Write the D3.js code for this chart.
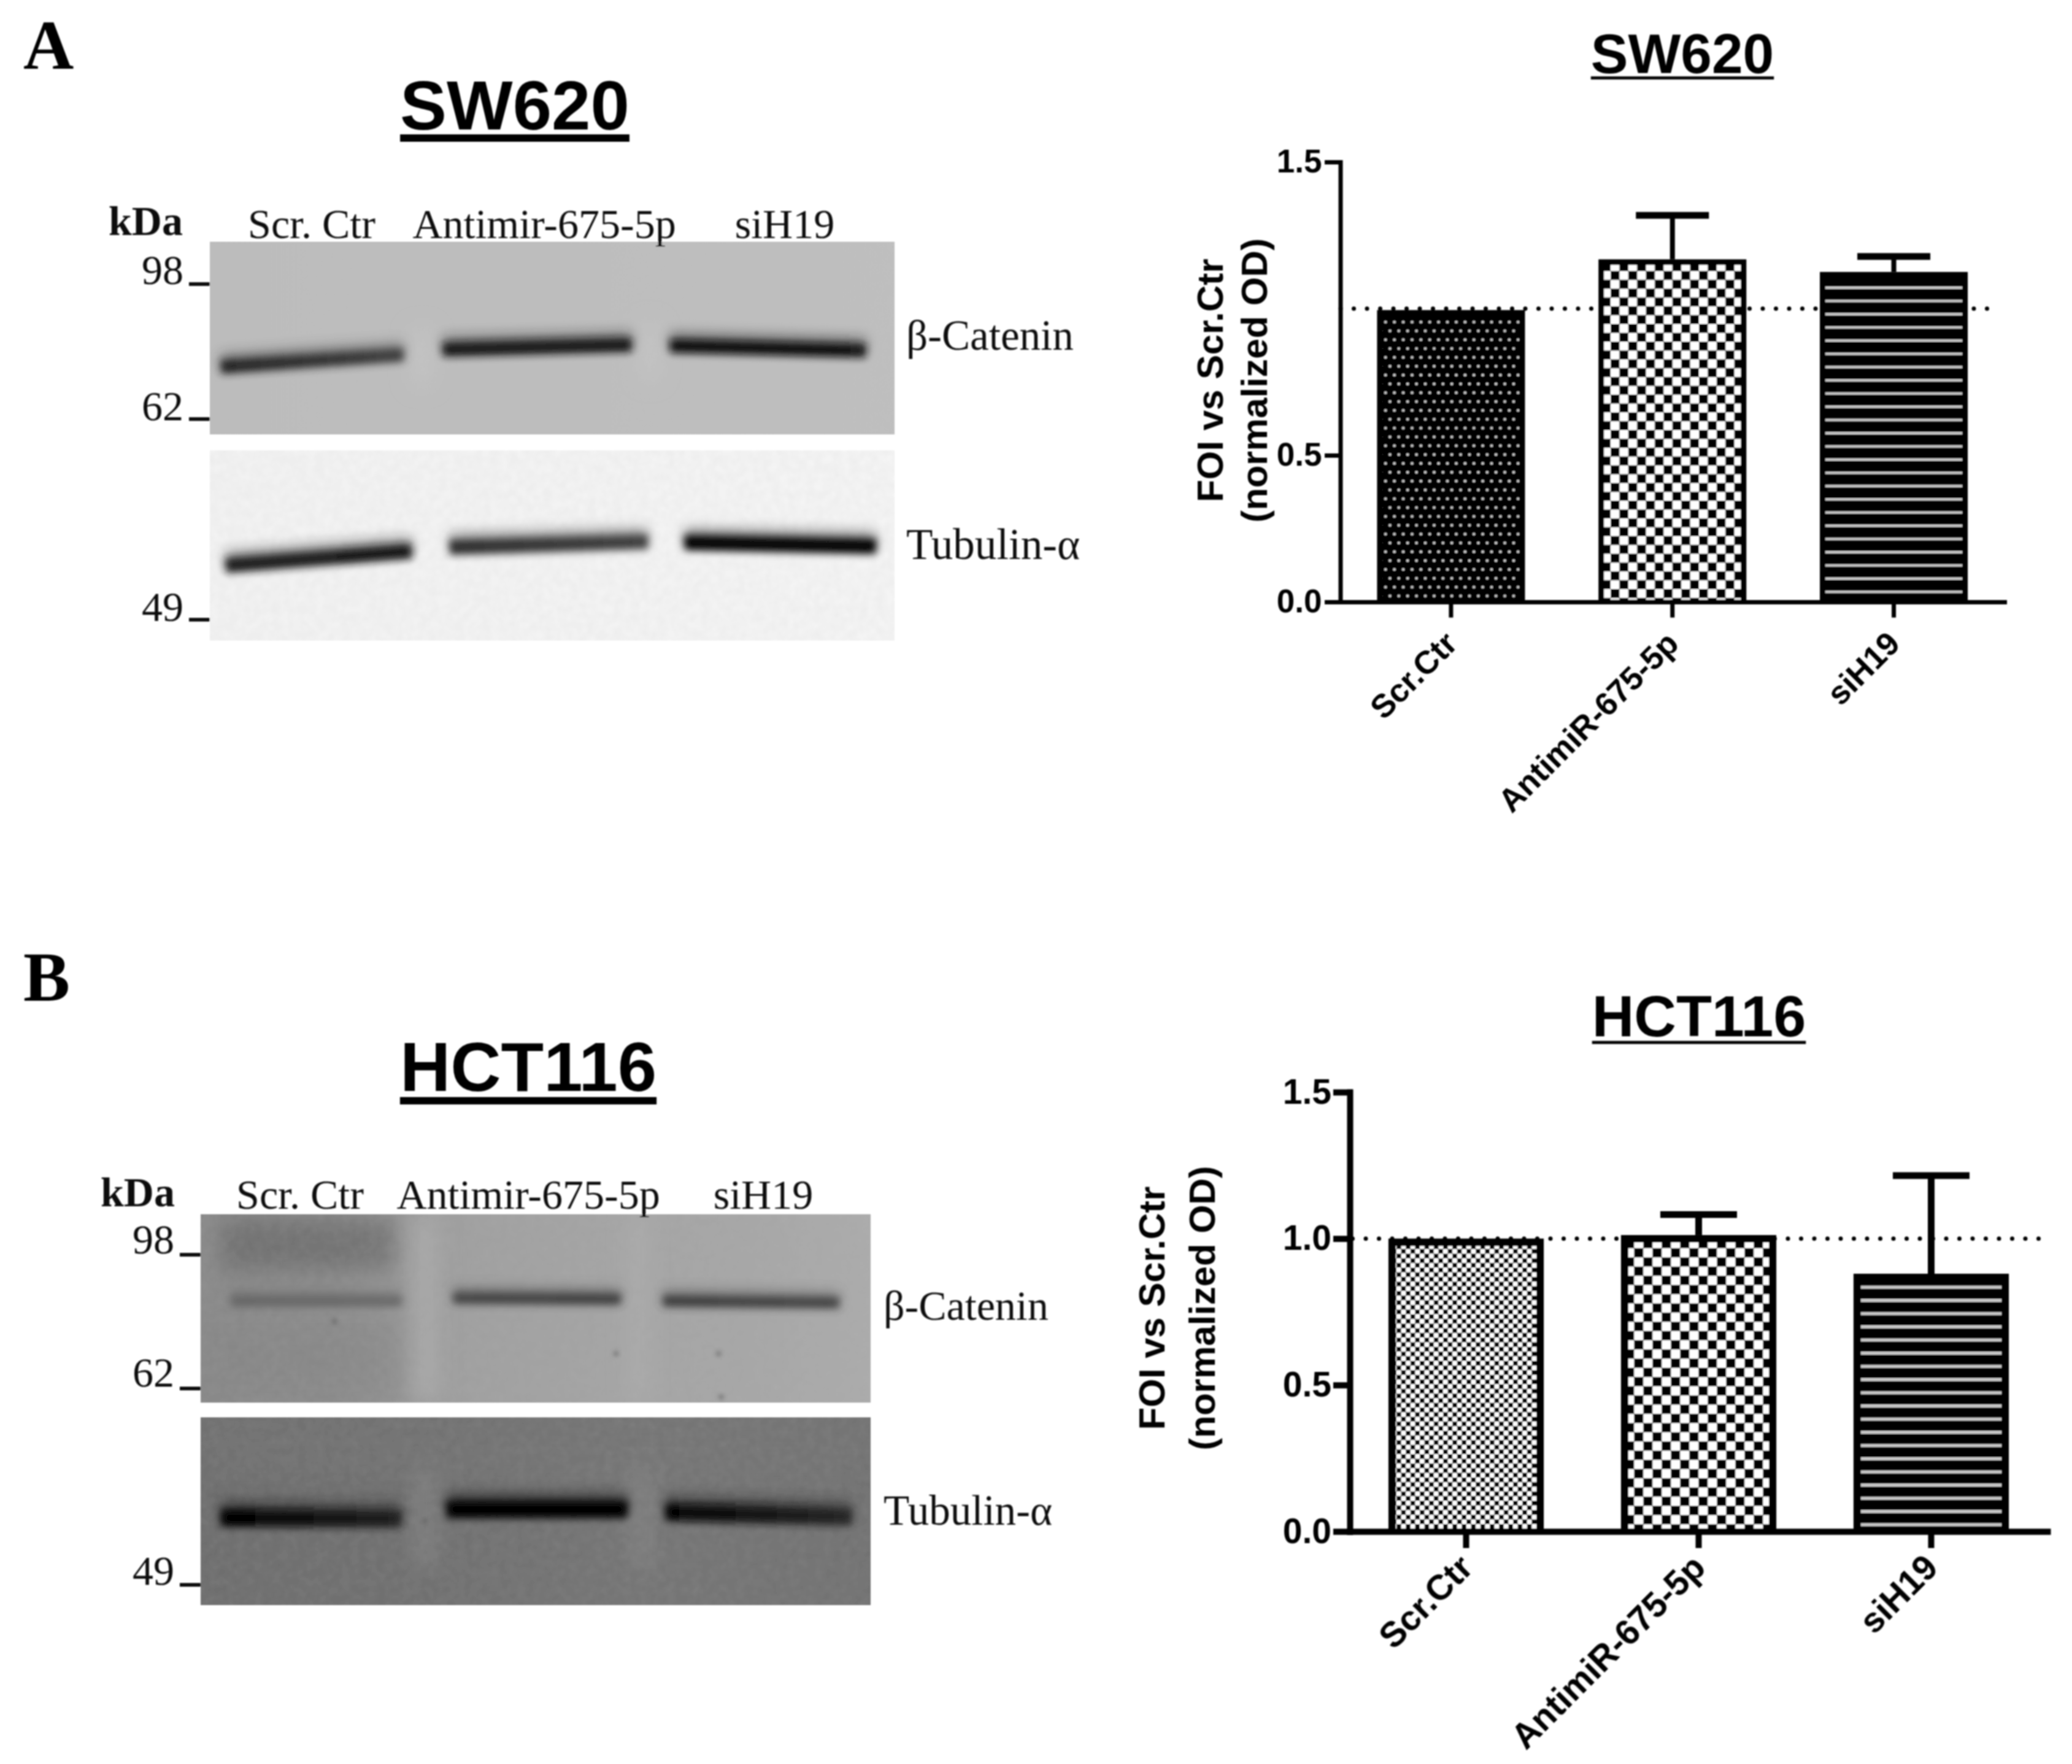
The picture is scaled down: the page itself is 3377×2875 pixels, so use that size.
<!DOCTYPE html>
<html>
<head>
<meta charset="utf-8">
<script src="https://cdn.jsdelivr.net/npm/d3@7"></script>
<style>
  html, body { margin: 0; background: #fff; }
  svg { display: block; }
  .serif { font-family: "Liberation Serif", serif; }
  .sans { font-family: "Liberation Sans", Arial, sans-serif; font-weight: bold; }
</style>
</head>
<body>
<div id="chart"></div>
<script>
const width = 3377;
const height = 2875;

const conditions = ["Scr.Ctr", "AntimiR-675-5p", "siH19"];
const laneLabels = ["Scr. Ctr", "Antimir-675-5p", "siH19"];
const markerLabels = ["98", "62", "49"];

// bar heights and top of the error bars
const sw620Values = [0.995, 1.168, 1.125];
const sw620Upper = [0.995, 1.318, 1.178];
const sw620Ticks = [0, 0.5, 1.5];

const hct116Values = [1.0, 1.012, 0.88];
const hct116Upper = [1.0, 1.082, 1.215];
const hct116Ticks = [0, 0.5, 1.0, 1.5];

// blot bands: lane start/end and height at both ends, as fraction of the membrane
const sw620CateninLanes = [[0.016, 0.283], [0.34, 0.616], [0.672, 0.958]];
const sw620CateninRows = [[0.65, 0.586], [0.56, 0.535], [0.54, 0.565]];
const sw620CateninInk = [["#222", "#404040"], ["#121212", "#121212"], ["#0c0c0c", "#121212"]];

const sw620TubulinLanes = [[0.023, 0.295], [0.35, 0.64], [0.693, 0.973]];
const sw620TubulinRows = [[0.605, 0.53], [0.51, 0.48], [0.485, 0.505]];
const sw620TubulinInk = [["#1c1c1c", "#181818"], ["#2c2c2c", "#404040"], ["#040404", "#040404"]];

const hct116CateninLanes = [[0.045, 0.30], [0.377, 0.627], [0.69, 0.953]];
const hct116CateninRows = [[0.46, 0.46], [0.445, 0.45], [0.46, 0.47]];
const hct116CateninInk = [["#666", "#6a6a6a"], ["#444", "#404040"], ["#3c3c3c", "#444"]];

const hct116TubulinLanes = [[0.03, 0.30], [0.367, 0.637], [0.694, 0.972]];
const hct116TubulinRows = [[0.535, 0.54], [0.49, 0.49], [0.505, 0.53]];
const hct116TubulinInk = [["#000", "#222"], ["#000", "#040404"], ["#040404", "#282828"]];

const hct116CateninSpecks = [[0.2, 0.57], [0.777, 0.97], [0.773, 0.74], [0.62, 0.74]];
const hct116TubulinSpecks = [[0.335, 0.55]];

const svg = d3.select("#chart")
  .append("svg")
  .attr("width", width)
  .attr("height", height)
  .attr("viewBox", `0 0 ${width} ${height}`);

const defs = svg.append("defs");

[["soft", 0.9], ["speckBlur", 3], ["bandBlur", 6.5], ["haloBlur", 10], ["smearBlur", 18]].forEach(([id, amount]) => {
  defs.append("filter").attr("id", id)
    .attr("filterUnits", "userSpaceOnUse")
    .attr("x", 0).attr("y", 0).attr("width", width).attr("height", height)
    .append("feGaussianBlur").attr("stdDeviation", amount);
});

// membrane grain
const grain = defs.append("filter").attr("id", "grain")
  .attr("filterUnits", "userSpaceOnUse")
  .attr("x", 0).attr("y", 0).attr("width", width).attr("height", height);
grain.append("feTurbulence")
  .attr("type", "fractalNoise")
  .attr("baseFrequency", 0.07)
  .attr("numOctaves", 2)
  .attr("seed", 4);
grain.append("feColorMatrix")
  .attr("values", "0 0 0 0 0.5  0 0 0 0 0.5  0 0 0 0 0.5  1.6 0 0 0 -0.4");

const root = svg.append("g").attr("filter", "url(#soft)");

function checkerPattern(id, cell, x0, y0) {
  const p = defs.append("pattern").attr("id", id)
    .attr("patternUnits", "userSpaceOnUse")
    .attr("x", x0).attr("y", y0)
    .attr("width", cell * 2).attr("height", cell * 2);
  p.append("rect").attr("width", cell * 2).attr("height", cell * 2).attr("fill", "#fff");
  [[0, 0], [cell, cell]].forEach(([a, b]) => {
    p.append("rect").attr("x", a).attr("y", b)
      .attr("width", cell).attr("height", cell).attr("fill", "#000");
  });
}

function dotPattern(id, pitch, x0, y0) {
  const p = defs.append("pattern").attr("id", id)
    .attr("patternUnits", "userSpaceOnUse")
    .attr("x", x0).attr("y", y0)
    .attr("width", pitch).attr("height", pitch * 2);
  p.append("rect").attr("width", pitch).attr("height", pitch * 2).attr("fill", "#000");
  [[pitch / 4, pitch / 2], [pitch * 3 / 4, pitch * 3 / 2]].forEach(([a, b]) => {
    p.append("circle").attr("cx", a).attr("cy", b).attr("r", 2.3).attr("fill", "#cfcfcf");
  });
}

function stripePattern(id, pitch, thick, y0) {
  const p = defs.append("pattern").attr("id", id)
    .attr("patternUnits", "userSpaceOnUse")
    .attr("x", 0).attr("y", y0)
    .attr("width", 40).attr("height", pitch);
  p.append("rect").attr("width", 40).attr("height", pitch).attr("fill", "#000");
  p.append("rect").attr("width", 40).attr("height", thick).attr("fill", "#c8c8c8");
}

dotPattern("sw620Dots", 14.4, 2254.6, 517.7);
checkerPattern("sw620Checks", 14.4, 2625, 441.7);
stripePattern("sw620Stripes", 21.55, 4, 467);
checkerPattern("hct116Fine", 7.6, 2276, 2028);
checkerPattern("hct116Checks", 15, 2663.3, 2034.3);
stripePattern("hct116Stripes", 21.5, 5, 2482.5);

function drawBarChart(opts) {
  const x = d3.scaleBand()
    .domain(conditions)
    .range(opts.xRange)
    .paddingInner(0.332)
    .paddingOuter(0.166);

  const y = d3.scaleLinear()
    .domain([0, 1.5])
    .range(opts.yRange);

  const g = root.append("g");

  // dotted reference line sits behind the bars
  g.append("line")
    .attr("x1", opts.xRange[0] + opts.dotStart)
    .attr("x2", opts.xRange[1] - opts.dotEnd)
    .attr("y1", y(1))
    .attr("y2", y(1))
    .attr("stroke", "#000")
    .attr("stroke-width", 7)
    .attr("stroke-linecap", "round")
    .attr("stroke-dasharray", "0 21.5");

  g.selectAll(".bar")
    .data(opts.values)
    .join("rect")
    .attr("class", "bar")
    .attr("x", (d, i) => x(conditions[i]))
    .attr("y", d => y(d))
    .attr("width", x.bandwidth())
    .attr("height", d => y(0) - y(d))
    .attr("fill", "#000");

  g.selectAll(".bar-fill")
    .data(opts.values)
    .join("rect")
    .attr("class", "bar-fill")
    .attr("x", (d, i) => x(conditions[i]) + opts.inset)
    .attr("y", d => y(d) + opts.inset)
    .attr("width", x.bandwidth() - opts.inset * 2)
    .attr("height", d => y(0) - y(d) - opts.inset - opts.axisStroke / 2)
    .attr("fill", (d, i) => `url(#${opts.patterns[i]})`);

  const errorIdx = d3.range(opts.upper.length).filter(i => opts.upper[i] > opts.values[i]);

  g.selectAll(".err-stem")
    .data(errorIdx)
    .join("line")
    .attr("class", "err-stem")
    .attr("x1", i => x(conditions[i]) + x.bandwidth() / 2)
    .attr("x2", i => x(conditions[i]) + x.bandwidth() / 2)
    .attr("y1", i => y(opts.upper[i]))
    .attr("y2", i => y(opts.values[i]))
    .attr("stroke", "#000")
    .attr("stroke-width", opts.axisStroke + 1);

  g.selectAll(".err-cap")
    .data(errorIdx)
    .join("line")
    .attr("class", "err-cap")
    .attr("x1", i => x(conditions[i]) + x.bandwidth() / 2 - opts.capWidth / 2)
    .attr("x2", i => x(conditions[i]) + x.bandwidth() / 2 + opts.capWidth / 2)
    .attr("y1", i => y(opts.upper[i]))
    .attr("y2", i => y(opts.upper[i]))
    .attr("stroke", "#000")
    .attr("stroke-width", 11);

  const yAxis = g.append("g")
    .attr("transform", `translate(${opts.xRange[0]}, 0)`)
    .call(d3.axisLeft(y)
      .tickValues(opts.ticks)
      .tickFormat(d3.format(".1f"))
      .tickSizeInner(opts.tickLen)
      .tickSizeOuter(0)
      .tickPadding(opts.tickPad));

  const xAxis = g.append("g")
    .attr("transform", `translate(0, ${y(0)})`)
    .call(d3.axisBottom(x)
      .tickSizeInner(opts.tickLen)
      .tickSizeOuter(0)
      .tickPadding(10));

  [yAxis, xAxis].forEach(axis => {
    axis.selectAll("path, line")
      .attr("stroke", "#000")
      .attr("stroke-width", opts.axisStroke)
      .attr("stroke-linecap", "square");
    axis.selectAll("text")
      .attr("class", "sans")
      .attr("fill", "#000")
      .style("font-size", opts.tickFont + "px");
  });

  xAxis.selectAll("text")
    .attr("text-anchor", "end")
    .attr("transform", `translate(${opts.labelShift[0]}, ${opts.labelShift[1]}) rotate(-45)`)
    .attr("dy", "0.35em")
    .attr("x", 0)
    .attr("y", 0);

  opts.yTitle.forEach((t, i) => {
    g.append("text")
      .attr("class", "sans")
      .attr("transform", `translate(${opts.titleX[i]}, ${opts.titleY}) rotate(-90)`)
      .attr("text-anchor", "middle")
      .style("font-size", opts.titleFont + "px")
      .text(t);
  });
}

function underlinedTitle(label, cx, baseline, size, lineY, lineW) {
  const t = root.append("text")
    .attr("class", "sans")
    .attr("x", cx)
    .attr("y", baseline)
    .attr("text-anchor", "middle")
    .style("font-size", size + "px")
    .text(label);
  const w = t.node().getComputedTextLength();
  root.append("line")
    .attr("x1", cx - w / 2)
    .attr("x2", cx + w / 2)
    .attr("y1", lineY)
    .attr("y2", lineY)
    .attr("stroke", "#000")
    .attr("stroke-width", lineW);
}

let clipCount = 0;

function drawMembrane(box, tone, lanes, rows, inks, thick, smears, specks) {
  const [x0, x1, y0, y1] = box;
  const fx = d3.scaleLinear().domain([0, 1]).range([x0, x1]);
  const fy = d3.scaleLinear().domain([0, 1]).range([y0, y1]);
  const id = "membrane" + clipCount++;

  defs.append("clipPath").attr("id", id)
    .append("rect")
    .attr("x", x0).attr("y", y0)
    .attr("width", x1 - x0).attr("height", y1 - y0);

  const g = root.append("g").attr("clip-path", `url(#${id})`);

  const grad = defs.append("linearGradient").attr("id", id + "bg");
  tone.forEach((c, i) => {
    grad.append("stop").attr("offset", i / (tone.length - 1)).attr("stop-color", c);
  });

  g.append("rect")
    .attr("x", x0).attr("y", y0)
    .attr("width", x1 - x0).attr("height", y1 - y0)
    .attr("fill", `url(#${id}bg)`);

  g.selectAll(".smear")
    .data(smears)
    .join("rect")
    .attr("class", "smear")
    .attr("x", d => fx(d[0]))
    .attr("y", d => fy(d[2]))
    .attr("width", d => fx(d[1]) - fx(d[0]))
    .attr("height", d => fy(d[3]) - fy(d[2]))
    .attr("fill", d => d[4])
    .attr("opacity", d => d[5])
    .attr("filter", "url(#smearBlur)");

  g.append("rect")
    .attr("x", x0).attr("y", y0)
    .attr("width", x1 - x0).attr("height", y1 - y0)
    .attr("filter", "url(#grain)")
    .attr("opacity", 0.1);

  const line = d3.line().x(d => fx(d[0])).y(d => fy(d[1]));

  lanes.forEach((lane, i) => {
    const inkId = `${id}ink${i}`;
    const ink = defs.append("linearGradient").attr("id", inkId)
      .attr("gradientUnits", "userSpaceOnUse")
      .attr("x1", fx(lane[0])).attr("x2", fx(lane[1]))
      .attr("y1", 0).attr("y2", 0);
    ink.append("stop").attr("offset", 0).attr("stop-color", inks[i][0]);
    ink.append("stop").attr("offset", 1).attr("stop-color", inks[i][1]);

    const d = line([[lane[0], rows[i][0]], [lane[1], rows[i][1]]]);

    // the smear above each band is what makes it look soft on top
    g.append("path")
      .attr("d", d)
      .attr("transform", `translate(0, ${-thick * 0.45})`)
      .attr("fill", "none")
      .attr("stroke", `url(#${inkId})`)
      .attr("stroke-width", thick * 1.1)
      .attr("opacity", 0.4)
      .attr("filter", "url(#haloBlur)");

    g.append("path")
      .attr("d", d)
      .attr("fill", "none")
      .attr("stroke", `url(#${inkId})`)
      .attr("stroke-width", thick)
      .attr("filter", "url(#bandBlur)");
  });

  g.selectAll(".speck")
    .data(specks)
    .join("circle")
    .attr("class", "speck")
    .attr("cx", d => fx(d[0]))
    .attr("cy", d => fy(d[1]))
    .attr("r", 5)
    .attr("fill", "#555")
    .attr("opacity", 0.45)
    .attr("filter", "url(#speckBlur)");
}

function serifText(label, x, y, anchor, weight, size) {
  root.append("text")
    .attr("class", "serif")
    .attr("x", x)
    .attr("y", y)
    .attr("text-anchor", anchor)
    .attr("font-weight", weight || "normal")
    .style("font-size", (size || 68) + "px")
    .attr("fill", "#111")
    .text(label);
}

function drawBlotLabels(opts) {
  serifText("kDa", opts.kda[0], opts.kda[1], "start", "bold");
  laneLabels.forEach((d, i) => serifText(d, opts.laneX[i], opts.laneY, "middle"));
  markerLabels.forEach((d, i) => {
    serifText(d, opts.markerEnd, opts.markerY[i], "end");
    root.append("line")
      .attr("x1", opts.markerEnd + 9)
      .attr("x2", opts.markerEnd + 43)
      .attr("y1", opts.markerTick[i])
      .attr("y2", opts.markerTick[i])
      .attr("stroke", "#111")
      .attr("stroke-width", 6);
  });
  serifText("β-Catenin", opts.proteinX, opts.proteinY[0], "start", "normal", opts.proteinSize[0]);
  serifText("Tubulin-α", opts.proteinX, opts.proteinY[1], "start", "normal", opts.proteinSize[1]);
}

// panel letters
[["A", 112], ["B", 1631]].forEach(([d, y]) => {
  root.append("text")
    .attr("class", "serif")
    .attr("x", 38)
    .attr("y", y)
    .attr("font-weight", "bold")
    .style("font-size", "114px")
    .text(d);
});

underlinedTitle("SW620", 839, 211, 114, 225, 12);
underlinedTitle("HCT116", 861, 1778, 114, 1794, 12);
underlinedTitle("SW620", 2742, 119, 91, 127, 5);
underlinedTitle("HCT116", 2769, 1689, 95, 1699, 5);

drawMembrane([342, 1458, 394, 708], ["#bcbcbc", "#bfbfbf"],
  sw620CateninLanes, sw620CateninRows, sw620CateninInk, 22,
  [[0.295, 0.325, 0.45, 0.75, "#cccccc", 0.5], [0.63, 0.655, 0.42, 0.72, "#cccccc", 0.5]], []);

drawMembrane([342, 1458, 734, 1044], ["#f2f2f2", "#f4f4f4"],
  sw620TubulinLanes, sw620TubulinRows, sw620TubulinInk, 24, [], []);

drawMembrane([327, 1419, 1979, 2286], ["#8a8a8a", "#8e8e8e", "#a0a0a0", "#a4a4a4", "#a6a6a6", "#ababab"],
  hct116CateninLanes, hct116CateninRows, hct116CateninInk, 18,
  [[0.03, 0.29, 0.02, 0.3, "#5a5a5a", 0.5],
   [0.315, 0.355, 0, 1, "#b4b4b4", 0.6],
   [0.64, 0.665, 0, 1, "#b4b4b4", 0.5],
   [0.0, 0.3, 0.55, 1, "#858585", 0.5]],
  hct116CateninSpecks);

drawMembrane([327, 1419, 2310, 2616], ["#6e6e6e", "#707070", "#757575", "#727272"],
  hct116TubulinLanes, hct116TubulinRows, hct116TubulinInk, 28,
  [[0.32, 0.35, 0.25, 0.8, "#8c8c8c", 0.6],
   [0.645, 0.67, 0.25, 0.8, "#8c8c8c", 0.6],
   [0.0, 1, 0.0, 0.3, "#777", 0.4]],
  hct116TubulinSpecks);

drawBlotLabels({
  kda: [177, 383],
  laneX: [508, 887, 1279],
  laneY: 388,
  markerEnd: 299,
  markerY: [463, 685, 1012],
  markerTick: [463, 683, 1010],
  proteinX: 1477,
  proteinY: [570, 911],
  proteinSize: [69, 71]
});

drawBlotLabels({
  kda: [164, 1966],
  laneX: [489, 861, 1244],
  laneY: 1970,
  markerEnd: 284,
  markerY: [2043, 2260, 2583],
  markerTick: [2045, 2263, 2583],
  proteinX: 1440,
  proteinY: [2151, 2485],
  proteinSize: [68, 69]
});

drawBarChart({
  values: sw620Values,
  upper: sw620Upper,
  ticks: sw620Ticks,
  xRange: [2184.5, 3267],
  yRange: [981, 264],
  patterns: ["sw620Dots", "sw620Checks", "sw620Stripes"],
  inset: 9,
  axisStroke: 7,
  capWidth: 119,
  dotStart: 0.5,
  dotEnd: 18,
  tickLen: 22,
  tickPad: 8,
  tickFont: 53,
  labelShift: [0, 58],
  yTitle: ["FOI vs Scr.Ctr", "(normalized OD)"],
  titleX: [1993, 2065],
  titleY: 620,
  titleFont: 60
});

drawBarChart({
  values: hct116Values,
  upper: hct116Upper,
  ticks: hct116Ticks,
  xRange: [2200, 3337],
  yRange: [2496, 1780],
  patterns: ["hct116Fine", "hct116Checks", "hct116Stripes"],
  inset: 12,
  axisStroke: 10,
  capWidth: 125,
  dotStart: 4.5,
  dotEnd: 4,
  tickLen: 22,
  tickPad: 8,
  tickFont: 57,
  labelShift: [0, 48],
  yTitle: ["FOI vs Scr.Ctr", "(normalized OD)"],
  titleX: [1898, 1980],
  titleY: 2132,
  titleFont: 60
});
</script>
</body>
</html>
